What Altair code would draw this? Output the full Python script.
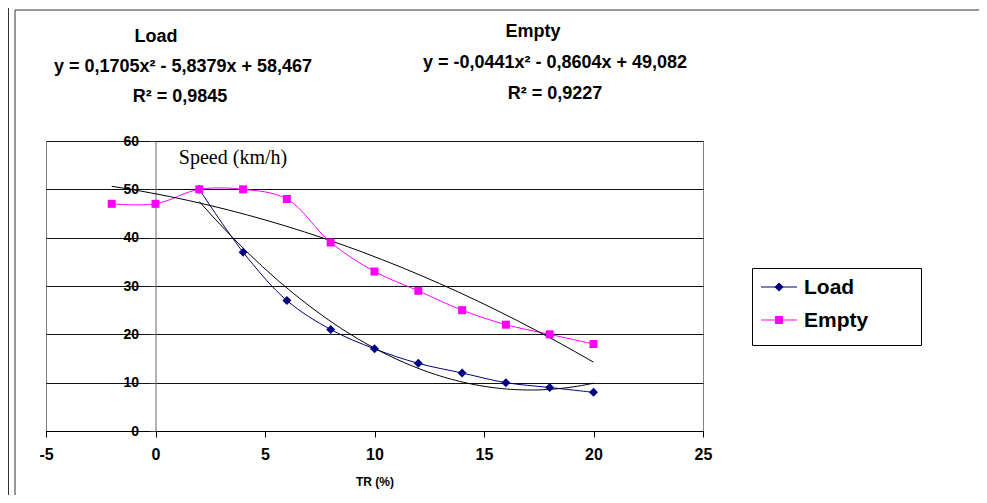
import altair as alt
import pandas as pd

# ---- data ----
load_x = [2, 4, 6, 8, 10, 12, 14, 16, 18, 20]
load_y = [50, 37, 27, 21, 17, 14, 12, 10, 9, 8]
empty_x = [-2, 0, 2, 4, 6, 8, 10, 12, 14, 16, 18, 20]
empty_y = [47, 47, 50, 50, 48, 39, 33, 29, 25, 22, 20, 18]

series_names = ["Load", "Empty"]
series_colors = ["#000080", "#FF00FF"]
series_shapes = ["diamond", "square"]
x_ticks = [-5, 0, 5, 10, 15, 20, 25]
y_ticks = [0, 10, 20, 30, 40, 50, 60]

load_title = "Load"
load_eq = "y = 0,1705x² - 5,8379x + 58,467"
load_r2 = "R² = 0,9845"
empty_title = "Empty"
empty_eq = "y = -0,0441x² - 0,8604x + 49,082"
empty_r2 = "R² = 0,9227"
y_title = "Speed (km/h)"
x_title = "TR (%)"

df = pd.concat([
    pd.DataFrame({"series": "Load", "x": load_x, "y": load_y}),
    pd.DataFrame({"series": "Empty", "x": empty_x, "y": empty_y}),
], ignore_index=True)

SANS = "Liberation Sans"
SERIF = "Liberation Serif"

xs = alt.Scale(domain=[-5, 25], nice=False, zero=False)
ys = alt.Scale(domain=[0, 60], nice=False, zero=False)
cs = alt.Scale(domain=series_names, range=series_colors)

x_axis = alt.Axis(values=x_ticks, grid=False, title=x_title, labelFont=SANS,
                  labelExpr="'' + datum.value",
                  labelFontSize=16, labelFontWeight="bold", labelColor="black",
                  labelPadding=9, tickSize=6, tickColor="black", domainColor="black",
                  titleFont=SANS, titleFontSize=12, titleFontWeight="bold",
                  titleColor="black", titlePadding=14, labelFlush=False)
y_axis = alt.Axis(values=y_ticks, grid=True, gridColor="#111", gridWidth=1,
                  offset=-109.5, labelFont=SANS, labelFontSize=14,
                  labelFontWeight="bold", labelColor="black", labelPadding=11,
                  tickSize=6, tickColor="#333", domainColor="#666",
                  title=y_title, titleAngle=0, titleFont=SERIF,
                  titleFontWeight="normal", titleFontSize=20, titleColor="black",
                  titleAlign="center", titleBaseline="middle", titleX=77, titleY=16)

x_enc = alt.X("x:Q", scale=xs, axis=x_axis)
y_enc = alt.Y("y:Q", scale=ys, axis=y_axis)

base = alt.Chart(df)

lines = base.mark_line(interpolate="catmull-rom", strokeWidth=1).encode(
    x=x_enc, y=y_enc,
    color=alt.Color("series:N", scale=cs, legend=None),
)

pts_load = base.transform_filter(alt.datum.series == "Load").mark_point(
    shape="diamond", filled=True, size=81, color=series_colors[0], opacity=1
).encode(x="x:Q", y="y:Q")

pts_empty = base.transform_filter(alt.datum.series == "Empty").mark_point(
    shape="square", filled=True, size=64, color=series_colors[1], opacity=1
).encode(x="x:Q", y="y:Q")

trend = base.transform_regression(
    "x", "y", method="poly", order=2, groupby=["series"]
).mark_line(color="black", strokeWidth=1).encode(
    x="x:Q", y="y:Q", detail="series:N"
)


def one():
    return alt.Chart(alt.Data(values=[{}]))


def txt(s, x, y, size=18, weight="bold", font=SANS, align="center"):
    return one().mark_text(
        text=s, font=font, fontSize=size, fontWeight=weight, color="black",
        align=align, baseline="middle"
    ).encode(x=alt.value(x), y=alt.value(y))


def rule(x, y, x2, y2, color="#333"):
    return one().mark_rule(color=color, strokeWidth=1).encode(
        x=alt.value(x), y=alt.value(y), x2=alt.value(x2), y2=alt.value(y2))


texts = [
    txt(load_title, 110, -104),
    txt(load_eq, 137, -74),
    txt(load_r2, 134, -44),
    txt(empty_title, 487, -109),
    txt(empty_eq, 509, -78),
    txt(empty_r2, 509, -47),
]

frame = [
    rule(-37.5, -140, -37.5, 360),
    rule(-31, -131, -31, 360),
    rule(-31, -131, 940, -131),
]

# legend (box, line+marker symbol, label per series)
legend_box = one().mark_rect(fill="white", stroke="black", strokeWidth=1).encode(
    x=alt.value(706.5), y=alt.value(127.5), x2=alt.value(875.5), y2=alt.value(204.5))
legend_items = [legend_box]
for i, (name, col, shp) in enumerate(zip(series_names, series_colors, series_shapes)):
    yy = 146 + 33 * i
    legend_items.append(rule(715, yy, 751, yy, color=col))
    legend_items.append(one().mark_point(shape=shp, filled=True, opacity=1, color=col,
                                         size=81 if shp == "diamond" else 64)
                        .encode(x=alt.value(733), y=alt.value(yy)))
    legend_items.append(txt(name, 758, yy + 1, size=21, align="left"))

chart = alt.layer(
    lines, trend, pts_load, pts_empty, *texts, *frame, *legend_items
).properties(
    width=657, height=290,
    autosize=alt.AutoSizeParams(type="none"),
    padding={"left": 38, "top": 133, "right": 276, "bottom": 64},
    background="white",
).configure_view(stroke="#808080", strokeWidth=1)

chart.save("out.html", embed_options={"renderer": "svg", "actions": False})
